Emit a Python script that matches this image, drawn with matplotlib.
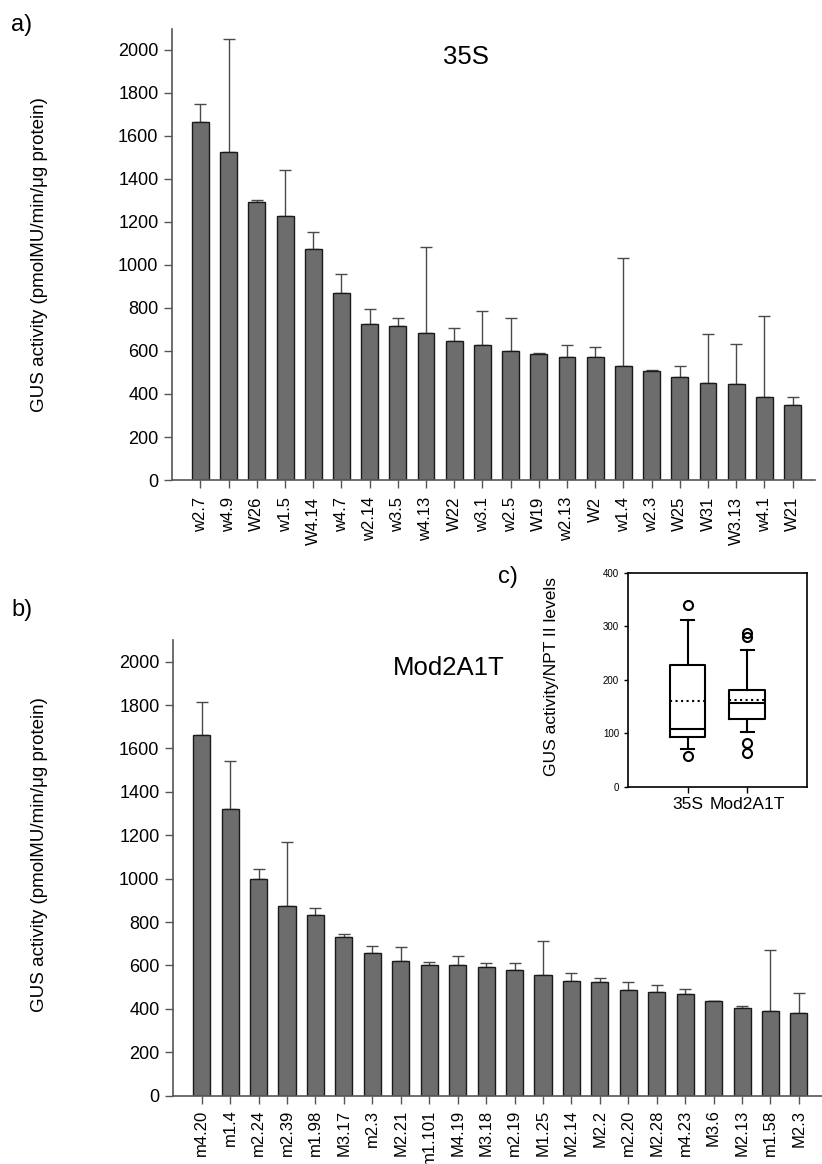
import matplotlib
matplotlib.use('Agg')
import matplotlib.pyplot as plt
import numpy as np

plt.rcParams['font.family'] = ['Liberation Sans', 'DejaVu Sans']

# a) 35S lines
lines_35s = ['w2.7', 'w4.9', 'W26', 'w1.5', 'W4.14', 'w4.7', 'w2.14', 'w3.5', 'w4.13', 'W22',
             'w3.1', 'w2.5', 'W19', 'w2.13', 'W2', 'w1.4', 'w2.3', 'W25', 'W31', 'W3.13', 'w4.1', 'W21']
gus_35s = [1664, 1525, 1294, 1228, 1076, 870, 726, 714, 684, 644,
           629, 599, 584, 573, 573, 530, 508, 477, 449, 446, 387, 350]
err_35s = [86, 523, 9, 215, 79, 90, 71, 40, 400, 63,
           156, 152, 5, 53, 46, 502, 3, 53, 228, 187, 375, 37]

# b) Mod2A1T lines
lines_mod = ['m4.20', 'm1.4', 'm2.24', 'm2.39', 'm1.98', 'M3.17', 'm2.3', 'M2.21', 'm1.101', 'M4.19',
             'M3.18', 'm2.19', 'M1.25', 'M2.14', 'M2.2', 'm2.20', 'M2.28', 'm4.23', 'M3.6', 'M2.13', 'm1.58', 'M2.3']
gus_mod = [1663, 1322, 998, 875, 833, 730, 658, 621, 603, 600,
           595, 580, 556, 529, 526, 486, 480, 467, 435, 403, 392, 380]
err_mod = [149, 221, 47, 296, 31, 14, 34, 65, 13, 44,
           18, 33, 159, 37, 18, 37, 29, 23, 3, 9, 281, 95]

# c) box plot stats (GUS activity / NPT II)
box_names = ['35S', 'Mod2A1T']
box_q1 = [93, 127]
box_med = [108, 157]
box_q3 = [228, 181]
box_mean = [161, 163]
box_lo = [70, 102]
box_hi = [312, 256]
box_fliers = [[340, 57], [280, 287, 82, 63]]

BAR_COLOR = '#6d6d6d'
ERR_COLOR = '#4a4a4a'
AX_COLOR = '#555555'
YLABEL = 'GUS activity (pmolMU/min/\u03bcg protein)'


def bar_panel(ax, names, vals, errs, ytop, title, title_xy, xpad):
    x = np.arange(len(names))
    ax.bar(x, vals, width=0.6, color=BAR_COLOR, edgecolor='#1a1a1a', linewidth=1.0, zorder=2)
    ax.errorbar(x, vals, yerr=[np.zeros(len(errs)), errs], fmt='none', ecolor=ERR_COLOR,
                elinewidth=1.0, capsize=4.5, capthick=1.0, zorder=1)
    ax.set_xlim(-1.0, len(names) - 0.2)
    ax.set_ylim(0, ytop)
    ax.set_yticks(range(0, 2001, 200))
    ax.set_xticks(x)
    ax.set_xticklabels(names, rotation=90, fontsize=12)
    ax.tick_params(axis='y', labelsize=13, length=6, width=1, color=AX_COLOR, pad=4)
    ax.tick_params(axis='x', length=6, width=1, color=AX_COLOR, pad=xpad)
    for s in ['top', 'right']:
        ax.spines[s].set_visible(False)
    for s in ['left', 'bottom']:
        ax.spines[s].set_color(AX_COLOR)
        ax.spines[s].set_linewidth(1.2)
    ax.text(title_xy[0], title_xy[1], title, transform=ax.transAxes, fontsize=18.5,
            ha='center', va='center')


fig = plt.figure(figsize=(8.22, 11.64), dpi=100)

ax1 = fig.add_axes([0.2096, 0.5876, 0.782, 0.3872])
bar_panel(ax1, lines_35s, gus_35s, err_35s, 2095, '35S', (0.457, 0.9395), 6)

ax2 = fig.add_axes([0.2108, 0.0587, 0.7888, 0.3915])
bar_panel(ax2, lines_mod, gus_mod, err_mod, 2100, 'Mod2A1T', (0.425, 0.9375), 4)

fig.text(40 / 822, 1 - 255 / 1164, YLABEL, rotation=90, ha='center', va='center', fontsize=13.5)
fig.text(40 / 822, 1 - 855 / 1164, YLABEL, rotation=90, ha='center', va='center', fontsize=13.5)
fig.text(22 / 822, 1 - 25 / 1164, 'a)', ha='center', va='center', fontsize=17)
fig.text(22 / 822, 1 - 610 / 1164, 'b)', ha='center', va='center', fontsize=17)
fig.text(508 / 822, 1 - 577 / 1164, 'c)', ha='center', va='center', fontsize=17)

# inset box plot
ax3 = fig.add_axes([0.764, 0.3241, 0.2174, 0.1838])
stats = []
for i in range(len(box_names)):
    stats.append({'label': box_names[i], 'q1': box_q1[i], 'med': box_med[i], 'q3': box_q3[i],
                  'mean': box_mean[i], 'whislo': box_lo[i], 'whishi': box_hi[i],
                  'fliers': box_fliers[i]})
lw = 1.5
ax3.bxp(stats, positions=[1, 2], widths=0.6, capwidths=0.22, showmeans=True, meanline=True,
        boxprops=dict(color='black', linewidth=lw),
        medianprops=dict(color='black', linewidth=lw),
        whiskerprops=dict(color='black', linewidth=lw),
        capprops=dict(color='black', linewidth=lw),
        meanprops=dict(color='black', linestyle=':', linewidth=1.5),
        flierprops=dict(marker='o', markerfacecolor='none', markeredgecolor='black',
                        markersize=6.5, markeredgewidth=1.5))
ax3.set_xlim(0, 3)
ax3.set_ylim(0, 400)
ax3.set_yticks([0, 100, 200, 300, 400])
ax3.tick_params(axis='y', labelsize=7, length=3, width=1)
ax3.tick_params(axis='x', labelsize=12.5, length=4, width=1)
for s in ax3.spines.values():
    s.set_linewidth(1.2)
fig.text(551 / 822, 1 - 676 / 1164, 'GUS activity/NPT II levels', rotation=90,
         ha='center', va='center', fontsize=12.5)

fig.savefig('out.png', dpi=100)
